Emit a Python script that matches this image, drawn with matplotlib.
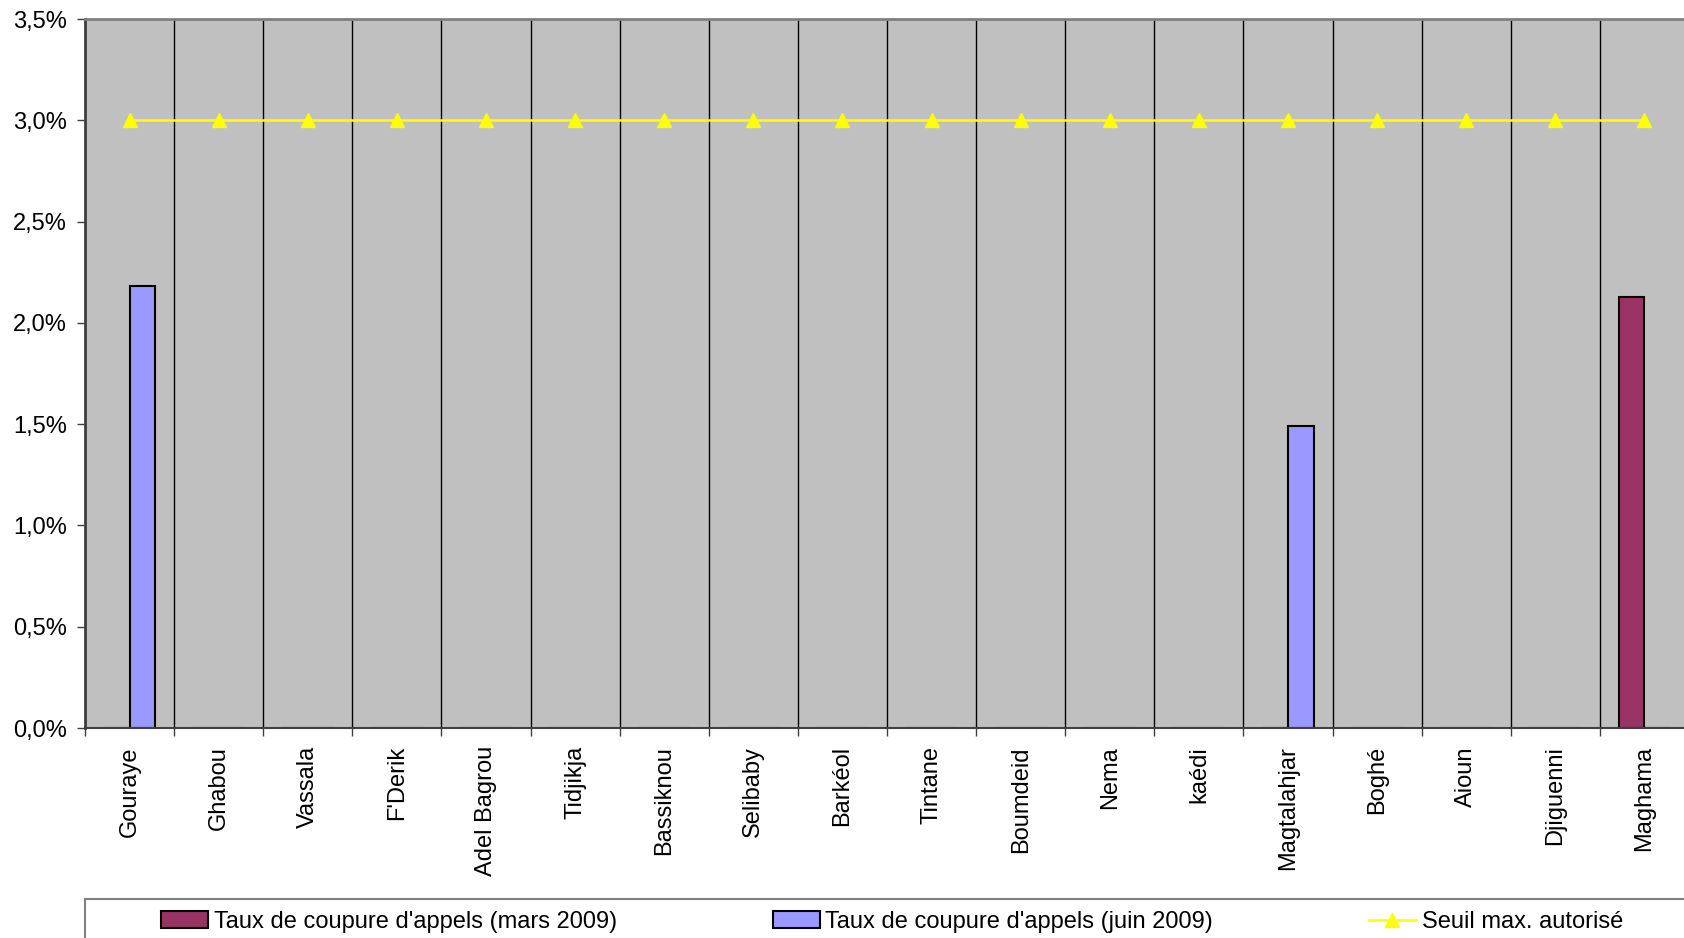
import numpy as np
import matplotlib
matplotlib.use("Agg")
import matplotlib.pyplot as plt
from matplotlib.patches import Rectangle
from matplotlib.ticker import FuncFormatter, MultipleLocator

plt.rcParams["font.family"] = ["Liberation Sans", "DejaVu Sans"]

# data (percent)
sites = ["Gouraye", "Ghabou", "Vassala", "F'Derik", "Adel Bagrou", "Tidjikja",
         "Bassiknou", "Selibaby", "Barkéol", "Tintane", "Boumdeid", "Nema",
         "kaédi", "Magtalahjar", "Boghé", "Aioun", "Djiguenni", "Maghama"]
mars_2009 = [0, 0, 0, 0, 0, 0, 0, 0, 0, 0, 0, 0, 0, 0, 0, 0, 0, 2.13]
juin_2009 = [2.18, 0, 0, 0, 0, 0, 0, 0, 0, 0, 0, 0, 0, 1.49, 0, 0, 0, 0]
seuil = [3.0] * len(sites)

label_mars = "Taux de coupure d'appels (mars 2009)"
label_juin = "Taux de coupure d'appels (juin 2009)"
label_seuil = "Seuil max. autorisé"

FS = 17
W, H = 1684, 938
fig = plt.figure(figsize=(W / 100, H / 100), dpi=100)
# plot area runs a few pixels past the right edge of the picture
ax = fig.add_axes([85 / W, 1 - 728 / H, (1689 - 85) / W, (728 - 19) / H])
ax.set_facecolor("#C0C0C0")

x = np.arange(len(sites))
bw = 0.29
ax.bar(x - bw / 2, mars_2009, bw, color="#993366", edgecolor="black", linewidth=1.5, zorder=3)
ax.bar(x + bw / 2, juin_2009, bw, color="#9999FF", edgecolor="black", linewidth=1.5, zorder=3)
ax.plot(x, seuil, color="#FFFF00", linewidth=1.8, marker="^", markersize=10, zorder=4)

ax.set_xlim(-0.5, len(sites) - 0.5)
ax.set_ylim(0, 3.5)
ax.yaxis.set_major_locator(MultipleLocator(0.5))
ax.yaxis.set_major_formatter(FuncFormatter(lambda v, p: f"{v:.1f}%".replace(".", ",")))

ax.set_xticks(x)
ax.set_xticklabels(sites, rotation=90, va="top", ha="center")
ax.set_xticks(np.arange(len(sites) + 1) - 0.5, minor=True)
ax.tick_params(axis="x", which="major", length=0, pad=13, labelsize=FS)
ax.tick_params(axis="x", which="minor", length=6, width=1, direction="out", color="#404040")
ax.tick_params(axis="y", length=6, width=1, direction="out", pad=7, labelsize=FS, color="#404040")
ax.grid(which="minor", axis="x", color="black", linewidth=1, zorder=1)
ax.set_axisbelow(True)

ax.spines["left"].set_color("#404040")
ax.spines["left"].set_linewidth(2)
ax.spines["bottom"].set_color("#404040")
ax.spines["bottom"].set_linewidth(1.5)
ax.spines["bottom"].set_zorder(5)
ax.spines["top"].set_color("#808080")
ax.spines["top"].set_linewidth(2)
ax.spines["right"].set_visible(False)

# legend box running off the bottom/right edge
fig.add_artist(Rectangle((85 / W, -0.1), 1.2, 0.1 + (1 - 899 / H), transform=fig.transFigure,
                         fill=False, edgecolor="#808080", linewidth=1.5))

handles = [
    Rectangle((0, 0), 1, 1, facecolor="#993366", edgecolor="black", linewidth=1.5),
    Rectangle((0, 0), 1, 1, facecolor="#9999FF", edgecolor="black", linewidth=1.5),
    plt.Line2D([], [], color="#FFFF00", linewidth=1.8, marker="^", markersize=10),
]
fig.legend(handles, [label_mars, label_juin, label_seuil], ncol=3, frameon=False,
           loc="center left", bbox_to_anchor=(161 / W, 1 - 922 / H),
           borderpad=0, borderaxespad=0, fontsize=FS, handlelength=2.0,
           handleheight=0.7, handletextpad=0.23, columnspacing=6.6)

fig.savefig("out.png", dpi=100)
